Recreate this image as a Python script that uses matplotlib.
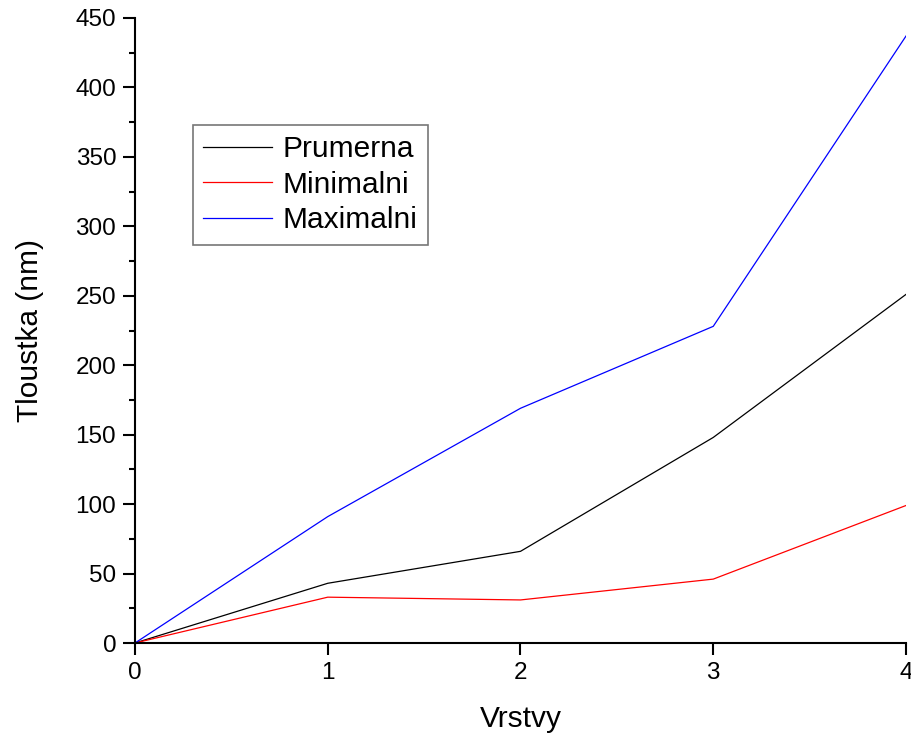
import matplotlib.pyplot as plt
from matplotlib.ticker import MultipleLocator

plt.rcParams['font.family'] = ['Liberation Sans', 'DejaVu Sans']

vrstvy = [0, 1, 2, 3, 4]
prumerna = [0, 43, 66, 148, 251]
minimalni = [0, 33, 31, 46, 99]
maximalni = [0, 91, 169, 228, 437]

fig = plt.figure(figsize=(9.12, 7.34), dpi=100)
ax = fig.add_axes([135 / 912, 1 - 643 / 734, (906 - 135) / 912, (643 - 18) / 734])

ax.plot(vrstvy, prumerna, color='black', lw=0.9, label='Prumerna')
ax.plot(vrstvy, minimalni, color='red', lw=0.9, label='Minimalni')
ax.plot(vrstvy, maximalni, color='blue', lw=0.9, label='Maximalni')

ax.set_xlim(0, 4)
ax.set_ylim(0, 450)
ax.xaxis.set_major_locator(MultipleLocator(1))
ax.yaxis.set_major_locator(MultipleLocator(50))
ax.yaxis.set_minor_locator(MultipleLocator(25))

for s in ['top', 'right']:
    ax.spines[s].set_visible(False)
for s in ['left', 'bottom']:
    ax.spines[s].set_linewidth(1.5)
    ax.spines[s].set_clip_on(False)

ax.tick_params(which='major', direction='out', length=8.5, width=1.5, labelsize=17.5, pad=5)
ax.tick_params(which='minor', direction='out', length=4.3, width=1.5)

ax.set_xlabel('Vrstvy', fontsize=21.5, labelpad=15)
ax.set_ylabel('Tloustka (nm)', fontsize=21.5, labelpad=23)

leg = ax.legend(loc='upper left', bbox_to_anchor=(58 / 771, 1 - 107 / 625), fontsize=21.5,
                frameon=True, fancybox=False, edgecolor='#555555', borderpad=0.35,
                handlelength=2.3, handletextpad=0.35, labelspacing=0.25, borderaxespad=0)
leg.get_frame().set_linewidth(1.2)

plt.savefig('out.png', dpi=100)
